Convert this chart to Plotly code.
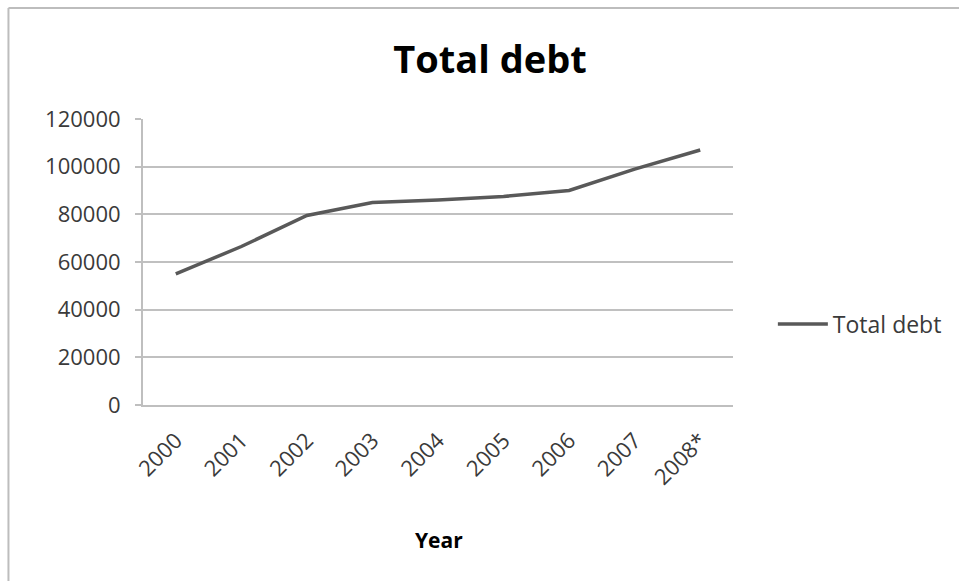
import plotly.graph_objects as go

years = ["2000", "2001", "2002", "2003", "2004", "2005", "2006", "2007", "2008*"]
total_debt = [55000, 66500, 79500, 85000, 86000, 87500, 90000, 99000, 107000]
y_ticks = [0, 20000, 40000, 60000, 80000, 100000, 120000]

W, H = 959, 581
L, R, T, B = 143, 735, 119, 405
pw, ph = R - L, B - T

def px(x):
    return (x - L) / pw

def py(y):
    return (B - y) / ph

font = "Open Sans"
txt = "#3a3a3a"

fig = go.Figure()
fig.add_trace(go.Scatter(
    x=years, y=total_debt, mode="lines", name="Total debt",
    line=dict(color="#595959", width=3.5),
))

fig.update_layout(
    width=W, height=H,
    margin=dict(l=L, r=W - R, t=T, b=H - B, pad=0),
    paper_bgcolor="white", plot_bgcolor="white",
    font=dict(family=font, color=txt, size=22),
    title=dict(text="<b>Total debt</b>", x=490 / W, xanchor="center",
               y=1 - 60 / H, yanchor="middle",
               font=dict(family=font, size=38, color="#000000")),
    showlegend=True,
    legend=dict(x=px(775), xanchor="left", y=py(324), yanchor="middle",
                font=dict(family=font, size=23, color=txt),
                bgcolor="rgba(0,0,0,0)", itemwidth=50),
    xaxis=dict(
        type="category", range=[-0.5, len(years) - 0.5],
        tickangle=-45, showgrid=False, showline=True, linecolor="#BFBFBF",
        linewidth=2, ticks="", tickfont=dict(family=font, size=22, color=txt),
        ticklabelstandoff=12, zeroline=False,
    ),
    yaxis=dict(
        range=[0, 120000], tickvals=y_ticks, ticktext=[str(v) for v in y_ticks],
        showgrid=True, gridcolor="#C0C0C0", gridwidth=2,
        showline=True, linecolor="#BFBFBF", linewidth=2,
        ticks="outside", ticklen=6, tickcolor="#BFBFBF", tickwidth=2,
        tickfont=dict(family=font, size=22, color=txt), zeroline=False,
        ticklabelstandoff=10,
    ),
    annotations=[dict(
        text="<b>Year</b>", xref="paper", yref="paper",
        x=px(440), y=py(540), showarrow=False, xanchor="center", yanchor="middle",
        font=dict(family=font, size=21, color="#000000"),
    )],
    shapes=[
        dict(type="line", xref="paper", yref="paper",
             x0=px(8), x1=px(8), y0=py(8), y1=py(H + 5),
             line=dict(color="#BDBDBD", width=2)),
        dict(type="line", xref="paper", yref="paper",
             x0=px(8), x1=px(W + 5), y0=py(8), y1=py(8),
             line=dict(color="#BDBDBD", width=2)),
    ],
)

fig.write_html("out.html")
